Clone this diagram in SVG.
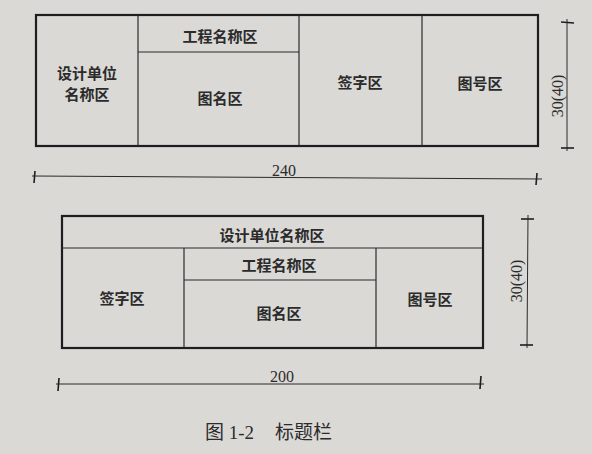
<svg xmlns="http://www.w3.org/2000/svg" width="592" height="454" viewBox="0 0 592 454">
<style>
.bg{fill:#dad9d6}
.outer{fill:none;stroke:#1e1e1e;stroke-width:2.2}
.inner{fill:none;stroke:#2a2a2a;stroke-width:1.2}
.dim{fill:none;stroke:#2a2a2a;stroke-width:1}
.tick{fill:none;stroke:#1e1e1e;stroke-width:1.6}
.lbl{font-family:"Noto Sans CJK SC","Noto Sans CJK JP",sans-serif;font-size:15px;font-weight:bold;fill:#2b2b2b;text-anchor:middle;dominant-baseline:central}
.num{font-family:"Liberation Serif",serif;font-size:16px;fill:#2b2b2b;text-anchor:middle;dominant-baseline:central}
.cap{font-family:"Liberation Serif","Noto Sans CJK SC",serif;font-size:19px;fill:#2b2b2b;dominant-baseline:central}
</style>
<rect class="bg" x="0" y="0" width="592" height="454"/>

<g id="table1">
  <rect class="outer" x="36" y="15" width="502" height="131"/>
  <line class="inner" x1="138" y1="15" x2="138" y2="146"/>
  <line class="inner" x1="299" y1="15" x2="299" y2="146"/>
  <line class="inner" x1="422" y1="15" x2="422" y2="146"/>
  <line class="inner" x1="138" y1="52" x2="299" y2="52"/>
</g>
<g id="t1-design"><text class="lbl" x="87" y="72">设计单位</text><text class="lbl" x="87" y="93">名称区</text></g>
<g id="t1-project"><text class="lbl" x="220" y="35">工程名称区</text></g>
<g id="t1-drawing"><text class="lbl" x="220" y="97">图名区</text></g>
<g id="t1-sign"><text class="lbl" x="360" y="81">签字区</text></g>
<g id="t1-number"><text class="lbl" x="480" y="82">图号区</text></g>

<g id="table2">
  <rect class="outer" x="62" y="216" width="421" height="132"/>
  <line class="inner" x1="62" y1="248" x2="483" y2="248"/>
  <line class="inner" x1="184" y1="248" x2="184" y2="348"/>
  <line class="inner" x1="376" y1="248" x2="376" y2="348"/>
  <line class="inner" x1="184" y1="280" x2="376" y2="280"/>
</g>
<g id="t2-design"><text class="lbl" x="272" y="234">设计单位名称区</text></g>
<g id="t2-sign"><text class="lbl" x="122" y="297">签字区</text></g>
<g id="t2-project"><text class="lbl" x="279" y="264">工程名称区</text></g>
<g id="t2-drawing"><text class="lbl" x="279" y="312">图名区</text></g>
<g id="t2-number"><text class="lbl" x="430" y="298">图号区</text></g>

<g id="connectors">
  <line class="dim" x1="32" y1="176" x2="542" y2="179"/>
  <line class="tick" x1="35" y1="171" x2="34" y2="183"/>
  <line class="tick" x1="537" y1="173" x2="536" y2="185"/>
  <line class="dim" x1="567" y1="19" x2="567" y2="151"/>
  <line class="tick" x1="561" y1="22" x2="574" y2="23"/>
  <line class="tick" x1="561" y1="148" x2="574" y2="148"/>
  <line class="dim" x1="56" y1="384" x2="484" y2="384"/>
  <line class="tick" x1="59" y1="378" x2="58" y2="391"/>
  <line class="tick" x1="481" y1="376" x2="480" y2="389"/>
  <line class="dim" x1="528" y1="215" x2="527" y2="348"/>
  <line class="tick" x1="521" y1="219" x2="534" y2="219"/>
  <line class="tick" x1="520" y1="345" x2="533" y2="345"/>
</g>
<g id="dims">
  <text class="num" x="284" y="170">240</text>
  <text class="num" transform="translate(557 96) rotate(-90)">30(40)</text>
  <text class="num" x="282" y="376">200</text>
  <text class="num" transform="translate(516 281) rotate(-90)">30(40)</text>
</g>
<g id="caption"><text class="cap" x="205" y="432">图 1-2<tspan x="275">标题栏</tspan></text></g>
</svg>
